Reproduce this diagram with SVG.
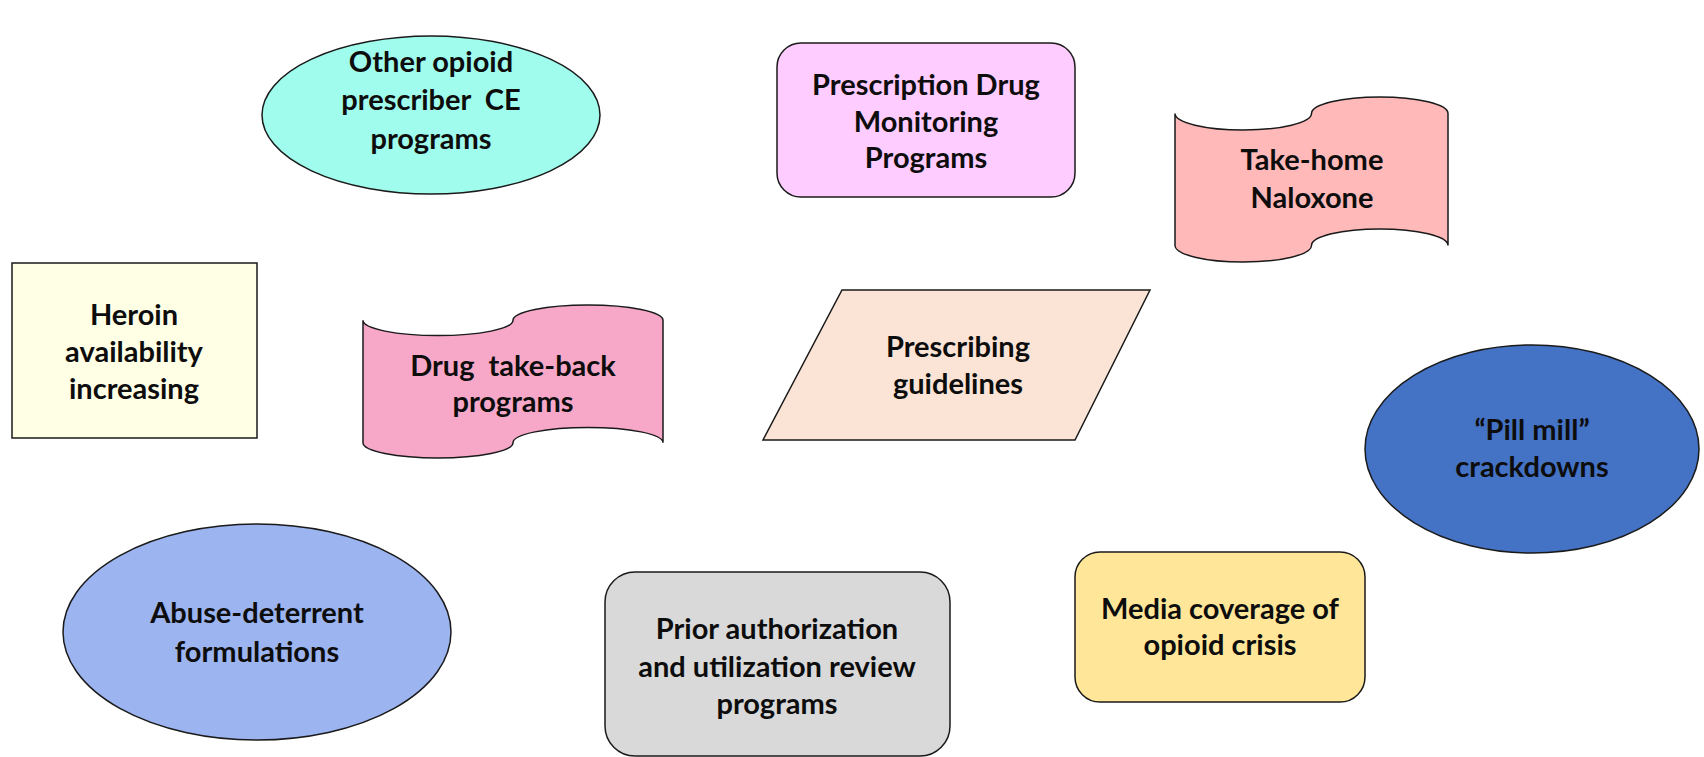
<svg xmlns="http://www.w3.org/2000/svg" width="1704" height="757" viewBox="0 0 1704 757">
  <style>
    .shape { stroke: #1a1a1a; stroke-width: 1.5; }
    .label { font-family: Lato, "Open Sans", "Liberation Sans", sans-serif; font-weight: bold; font-size: 29px; fill: #0d0d0d; text-anchor: middle; white-space: pre; }
  </style>
  <rect x="0" y="0" width="1704" height="757" fill="#ffffff"/>

  <g id="other-opioid-ce">
    <ellipse class="shape" cx="431" cy="115" rx="169" ry="79" fill="#a0fcec"/>
    <text class="label" x="431" y="72">Other opioid</text>
    <text class="label" x="431" y="110" xml:space="preserve">prescriber  CE</text>
    <text class="label" x="431" y="149">programs</text>
  </g>

  <g id="pdmp">
    <rect class="shape" x="777" y="43" width="298" height="154" rx="24" fill="#ffccff"/>
    <text class="label" x="926" y="95">Prescription Drug</text>
    <text class="label" x="926" y="132">Monitoring</text>
    <text class="label" x="926" y="168">Programs</text>
  </g>

  <g id="take-home-naloxone">
    <path class="shape" fill="#ffb9b9" d="M1175,113.5 A68.25,16.5 0 0 0 1311.5,113.5 A68.25,16.5 0 0 1 1448,113.5 L1448,245.5 A68.25,16.5 0 0 0 1311.5,245.5 A68.25,16.5 0 0 1 1175,245.5 Z"/>
    <text class="label" x="1312" y="170">Take-home</text>
    <text class="label" x="1312" y="208">Naloxone</text>
  </g>

  <g id="heroin-availability">
    <rect class="shape" x="12" y="263" width="245" height="175" fill="#ffffe6"/>
    <text class="label" x="134" y="325">Heroin</text>
    <text class="label" x="134" y="362">availability</text>
    <text class="label" x="134" y="399">increasing</text>
  </g>

  <g id="drug-take-back">
    <path class="shape" fill="#f7a8c8" d="M363,320.3 A75,15.3 0 0 0 513,320.3 A75,15.3 0 0 1 663,320.3 L663,442.7 A75,15.3 0 0 0 513,442.7 A75,15.3 0 0 1 363,442.7 Z"/>
    <text class="label" x="513" y="376" xml:space="preserve">Drug  take-back</text>
    <text class="label" x="513" y="412">programs</text>
  </g>

  <g id="prescribing-guidelines">
    <polygon class="shape" fill="#fbe4d5" points="842,290 1150,290 1075,440 763,440"/>
    <text class="label" x="958" y="357">Prescribing</text>
    <text class="label" x="958" y="394">guidelines</text>
  </g>

  <g id="pill-mill-crackdowns">
    <ellipse class="shape" cx="1532" cy="449" rx="167" ry="104" fill="#4472c4"/>
    <text class="label" x="1532" y="440">“Pill mill”</text>
    <text class="label" x="1532" y="477">crackdowns</text>
  </g>

  <g id="abuse-deterrent">
    <ellipse class="shape" cx="257" cy="632" rx="194" ry="108" fill="#9cb4f0"/>
    <text class="label" x="257" y="623">Abuse-deterrent</text>
    <text class="label" x="257" y="662">formulations</text>
  </g>

  <g id="prior-authorization">
    <rect class="shape" x="605" y="572" width="345" height="184" rx="30" fill="#d9d9d9"/>
    <text class="label" x="777" y="639">Prior authorization</text>
    <text class="label" x="777" y="677">and utilization review</text>
    <text class="label" x="777" y="714">programs</text>
  </g>

  <g id="media-coverage">
    <rect class="shape" x="1075" y="552" width="290" height="150" rx="25" fill="#ffe699"/>
    <text class="label" x="1220" y="619">Media coverage of</text>
    <text class="label" x="1220" y="655">opioid crisis</text>
  </g>

  <!-- no connectors between these nodes -->
  <g id="connectors"/>
</svg>
